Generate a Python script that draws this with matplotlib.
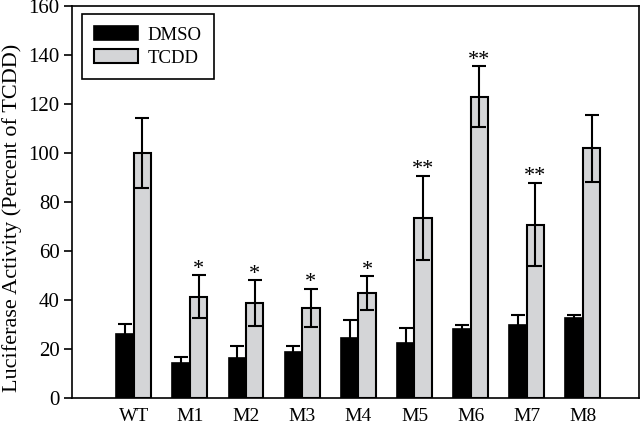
import matplotlib
matplotlib.use('Agg')
import matplotlib.pyplot as plt
import numpy as np

groups = ['WT', 'M1', 'M2', 'M3', 'M4', 'M5', 'M6', 'M7', 'M8']
dmso = [26.3, 14.4, 16.4, 18.9, 24.6, 22.3, 28.0, 29.9, 32.7]
dmso_err = [3.8, 2.2, 4.8, 2.5, 7.2, 6.3, 2.0, 3.8, 1.0]
tcdd = [100.0, 41.4, 38.7, 36.9, 42.8, 73.5, 123.1, 70.8, 101.9]
tcdd_err = [14.3, 8.8, 9.3, 7.8, 6.9, 17.3, 12.3, 17.1, 13.7]
marks = ['', '*', '*', '*', '*', '**', '**', '**', '']

plt.rcParams['font.family'] = ['Liberation Serif', 'DejaVu Serif']

fig = plt.figure(figsize=(6.4, 4.25), dpi=100)
ax = fig.add_axes([0.1125, 0.0635, 0.886, 0.922])

x = np.arange(len(groups))
w = 0.31
ekw = dict(ecolor='black', elinewidth=1.5, capsize=5, capthick=1.5)
ax.bar(x - w / 2, dmso, w, yerr=dmso_err, color='black', edgecolor='black',
       linewidth=1.2, label='DMSO', error_kw=ekw)
ax.bar(x + w / 2, tcdd, w, yerr=tcdd_err, color='#d4d5d7', edgecolor='black',
       linewidth=1.5, label='TCDD', error_kw=ekw)

for i, m in enumerate(marks):
    if m:
        ax.annotate(m, (x[i] + w / 2, tcdd[i] + tcdd_err[i]), xytext=(0, -2.5),
                    textcoords='offset points', ha='center', va='bottom',
                    fontsize=16)

ax.set_xlim(-1.1, 9.0)
ax.set_ylim(0, 160)
ax.set_yticks(range(0, 161, 20))
ax.set_xticks(x)
ax.set_xticklabels(groups)
ax.tick_params(axis='x', length=0, pad=7, labelsize=14)
ax.tick_params(axis='y', length=6, width=1.2, direction='out', labelsize=15,
               pad=3)
ax.set_ylabel('Luciferase Activity (Percent of TCDD)', fontsize=16)
ax.yaxis.set_label_coords(-0.088, 0.46)
for s in ax.spines.values():
    s.set_linewidth(1.2)

leg = ax.legend(loc='upper left', fontsize=13.5, fancybox=False, framealpha=1,
                edgecolor='black', handlelength=2.3, handleheight=0.75,
                borderpad=0.65, labelspacing=0.3, handletextpad=0.55,
                borderaxespad=0, bbox_to_anchor=(0.018, 0.98))
leg.get_frame().set_linewidth(1.2)

fig.savefig('out.png', dpi=100)
